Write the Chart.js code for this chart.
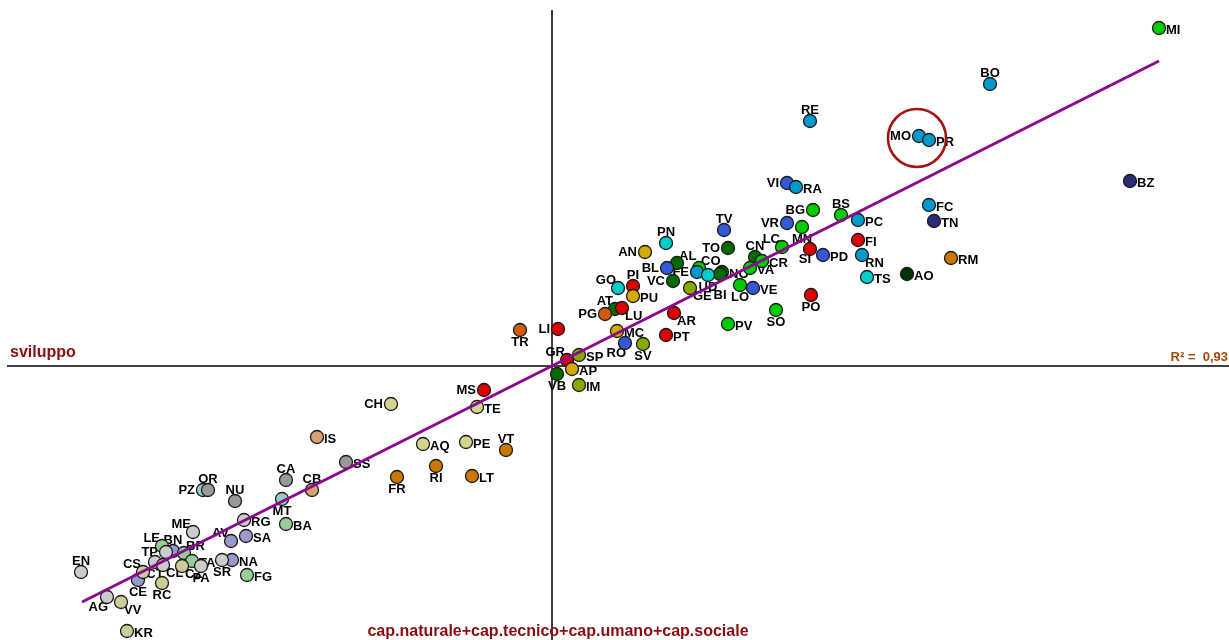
<!DOCTYPE html>
<html><head><meta charset="utf-8">
<script src="https://cdn.jsdelivr.net/npm/chart.js@4/dist/chart.umd.min.js"></script>
<style>html,body{margin:0;padding:0;background:#fff;overflow:hidden}#wrap{width:1229px;height:640px;position:relative}</style>
</head><body><div id="wrap"><canvas id="c" width="1229" height="640"></canvas></div>
<script>
// ---- data (x: capitali, y: sviluppo) ----
const provinces = [
 'AL','TO','CN','VC','NO','BI','VB','AT',
 'AO',
 'MI','BG','BS','MN','LC','CR','VA','CO','LO','PV','SO',
 'VI','VR','TV','PD','BL','RO','VE',
 'BZ','TN',
 'BO','RE','MO','PR','FC','PC','RN','RA','FE',
 'PN','GO','TS','UD',
 'FI','SI','PO','PI','LU','AR','PT','LI','MS','GR',
 'GE','SV','IM','SP',
 'PG','TR',
 'AN','PU','MC','AP',
 'RM','FR','RI','LT','VT',
 'CH','TE','AQ','PE',
 'IS','CB',
 'MT','PZ',
 'SS','CA','NU','OR',
 'AV','SA','NA','CE','BN',
 'BA','FG','BR','LE','TA',
 'ME','EN','AG','CT','CL','TP','PA','SR','RG',
 'KR','VV','RC','CZ','CS'
];
const capitalValues = [
 1.25,1.76,2.03,1.21,1.70,1.68,0.05,0.63,
 3.55,
 6.07,2.61,2.89,2.50,2.30,2.10,1.98,1.47,1.88,1.76,2.24,
 2.35,2.35,1.72,2.71,1.15,0.73,2.01,
 5.78,3.82,
 4.38,2.58,3.67,3.77,3.77,3.06,3.10,2.44,1.45,
 1.14,0.66,3.15,1.56,
 3.06,2.58,2.59,0.81,0.70,1.22,1.14,0.06,-0.68,0.15,
 1.38,0.91,0.27,0.27,
 0.53,-0.32,
 0.93,0.81,0.65,0.20,
 3.99,-1.55,-1.16,-0.80,-0.46,
 -1.61,-0.75,-1.29,-0.86,
 -2.35,-2.40,
 -2.70,-3.49,
 -2.06,-2.66,-3.17,-3.44,
 -3.21,-3.06,-3.20,-4.14,-3.79,
 -2.66,-3.05,-3.68,-3.90,-3.60,
 -3.59,-4.71,-4.45,-3.97,-3.89,-3.86,-3.51,-3.30,-3.08,
 -4.25,-4.31,-3.90,-3.70,-4.09
];
const developmentValues = [
 1.03,1.18,1.09,0.85,0.94,0.92,-0.08,0.57,
 0.92,
 3.38,1.56,1.51,1.39,1.19,1.05,0.98,0.98,0.81,0.42,0.56,
 1.83,1.43,1.36,1.11,0.98,0.23,0.78,
 1.85,1.45,
 2.82,2.45,2.30,2.26,1.61,1.46,1.11,1.79,0.94,
 1.23,0.78,0.89,0.91,
 1.26,1.17,0.71,0.80,0.58,0.53,0.31,0.37,-0.24,0.06,
 0.78,0.22,-0.19,0.11,
 0.52,0.36,
 1.14,0.70,0.35,-0.03,
 1.08,-1.11,-1.00,-1.10,-0.84,
 -0.38,-0.41,-0.78,-0.76,
 -0.71,-1.24,
 -1.33,-1.24,
 -0.96,-1.14,-1.35,-1.24,
 -1.75,-1.70,-1.94,-2.14,-1.85,
 -1.58,-2.09,-1.87,-1.80,-1.95,
 -1.66,-2.06,-2.31,-1.96,-1.99,-1.86,-2.00,-1.94,-1.54,
 -2.65,-2.36,-2.17,-2.00,-2.06
];
const regions = [
 'PIE','PIE','PIE','PIE','PIE','PIE','PIE','PIE',
 'VDA',
 'LOM','LOM','LOM','LOM','LOM','LOM','LOM','LOM','LOM','LOM','LOM',
 'VEN','VEN','VEN','VEN','VEN','VEN','VEN',
 'TAA','TAA',
 'EMR','EMR','EMR','EMR','EMR','EMR','EMR','EMR','EMR',
 'FVG','FVG','FVG','FVG',
 'TOS','TOS','TOS','TOS','TOS','TOS','TOS','TOS','TOS','TOS',
 'LIG','LIG','LIG','LIG',
 'UMB','UMB',
 'MAR','MAR','MAR','MAR',
 'LAZ','LAZ','LAZ','LAZ','LAZ',
 'ABR','ABR','ABR','ABR',
 'MOL','MOL',
 'BAS','BAS',
 'SAR','SAR','SAR','SAR',
 'CAM','CAM','CAM','CAM','CAM',
 'PUG','PUG','PUG','PUG','PUG',
 'SIC','SIC','SIC','SIC','SIC','SIC','SIC','SIC','SIC',
 'CAL','CAL','CAL','CAL','CAL'
];
const trendX = [-4.70, 6.07];
const trendY = [-2.36, 3.05];
const highlightX = [3.65];
const highlightY = [2.28];
const xRange = [-5.52, 6.77];
const yRange = [-2.74, 3.66];
const xTitle = 'cap.naturale+cap.tecnico+cap.umano+cap.sociale';
const yTitle = 'sviluppo';
const r2Label = 'R² =  0,93';

// ---- styles ----
const regionColors = {
 PIE:'#006a00', VDA:'#003300', LOM:'#00cc00', VEN:'#3358d8', TAA:'#2b2b78',
 EMR:'#0099cc', FVG:'#00cccc', TOS:'#dd0000', LIG:'#88aa00', UMB:'#d25a10',
 MAR:'#d4aa00', LAZ:'#cc7700', ABR:'#d4d48e', MOL:'#d9a070', BAS:'#99cccc',
 SAR:'#999999', CAM:'#9999cc', PUG:'#99cc99', SIC:'#cccccc', CAL:'#cccc99'
};
const labelPlacement = [
 'tr','l','t','l','r','b2','b','tl',
 'r',
 'r','l','t','b','tl','r','r','tr','b','r','b',
 'l','l','t','r','l','bl','r',
 'r','r',
 't','t','l','r','r','r','br','r','l',
 't','tl','r','b',
 'r','bl','b','t','br','br','r','l','l','tl',
 'br','b','r','r',
 'l','b',
 'l','r','r','r',
 'r','b','b','r','t',
 'l','r','r','r',
 'r','t',
 'b','l',
 'r','t','t','t',
 'tl','r','r','b','t',
 'r','r','tr','tl','r',
 'tl','t','bl','b','br','l','b','b','r',
 'r','br','b','br','tl'
];
const placeOffsets = {
 r:[7,2,'left'], l:[-8,0,'right'], t:[0,-11,'center'], b:[0,12,'center'], b2:[0,21,'center'],
 tr:[2,-7,'left'], tl:[-2,-8,'right'], br:[3,8,'left'], bl:[1,10,'right']
};
const FONT = '"Liberation Sans", Arial, sans-serif';

const points = provinces.map((p,i)=>({x:capitalValues[i], y:developmentValues[i]}));

const overlay = {
 id:'overlay',
 beforeDatasetsDraw(chart){
  const ctx = chart.ctx, xs = chart.scales.x, ys = chart.scales.y;
  const x0 = xs.getPixelForValue(0), y0 = ys.getPixelForValue(0);
  ctx.save();
  ctx.strokeStyle = '#000'; ctx.lineWidth = 1.5;
  ctx.beginPath();
  ctx.moveTo(xs.getPixelForValue(xRange[0]+0.07), y0); ctx.lineTo(xs.getPixelForValue(xRange[1]), y0);
  ctx.moveTo(x0, ys.getPixelForValue(yRange[1]-0.10)); ctx.lineTo(x0, ys.getPixelForValue(yRange[0]));
  ctx.stroke();
  // point labels
  const meta = chart.getDatasetMeta(2);
  ctx.font = 'bold 13px ' + FONT;
  ctx.fillStyle = '#000';
  ctx.textBaseline = 'middle';
  meta.data.forEach((el,i)=>{
   const o = placeOffsets[labelPlacement[i]] || placeOffsets.r;
   ctx.textAlign = o[2];
   ctx.fillText(provinces[i], el.x + o[0], el.y + o[1]);
  });
  // titles
  ctx.fillStyle = '#8b0c0c';
  ctx.font = 'bold 16px ' + FONT;
  ctx.textBaseline = 'alphabetic';
  ctx.textAlign = 'left';
  ctx.fillText(yTitle, 10, y0 - 9);
  ctx.textAlign = 'center';
  ctx.fillText(xTitle, x0 + 6, chart.chartArea.bottom - 4);
  ctx.fillStyle = '#a8460c';
  ctx.font = 'bold 13px ' + FONT;
  ctx.textAlign = 'right';
  ctx.fillText(r2Label, chart.chartArea.right - 1, y0 - 5);
  ctx.restore();
 }
};

new Chart(document.getElementById('c'), {
 type:'scatter',
 data:{ datasets:[
  { label:'highlight', data:highlightX.map((x,i)=>({x, y:highlightY[i]})),
    pointRadius:29, pointHoverRadius:29, backgroundColor:'rgba(0,0,0,0)', borderColor:'#a51212', borderWidth:2.6, clip:false, order:0 },
  { label:'trend', type:'line', data:trendX.map((x,i)=>({x, y:trendY[i]})),
    borderColor:'#8a0a8e', borderWidth:3, pointRadius:0, fill:false, clip:false, order:1 },
  { label:'province', data:points,
    backgroundColor: regions.map(r=>regionColors[r]), borderColor:'#1a1a1a', borderWidth:1.3,
    pointRadius:6.5, pointHoverRadius:6.5, clip:false, order:3 }
 ]},
 options:{
  responsive:false, animation:false, devicePixelRatio:1,
  layout:{padding:0, autoPadding:false},
  scales:{
   x:{type:'linear', min:xRange[0], max:xRange[1], display:false},
   y:{type:'linear', min:yRange[0], max:yRange[1], display:false}
  },
  plugins:{legend:{display:false}, tooltip:{enabled:false}}
 },
 plugins:[overlay]
});
</script></body></html>
